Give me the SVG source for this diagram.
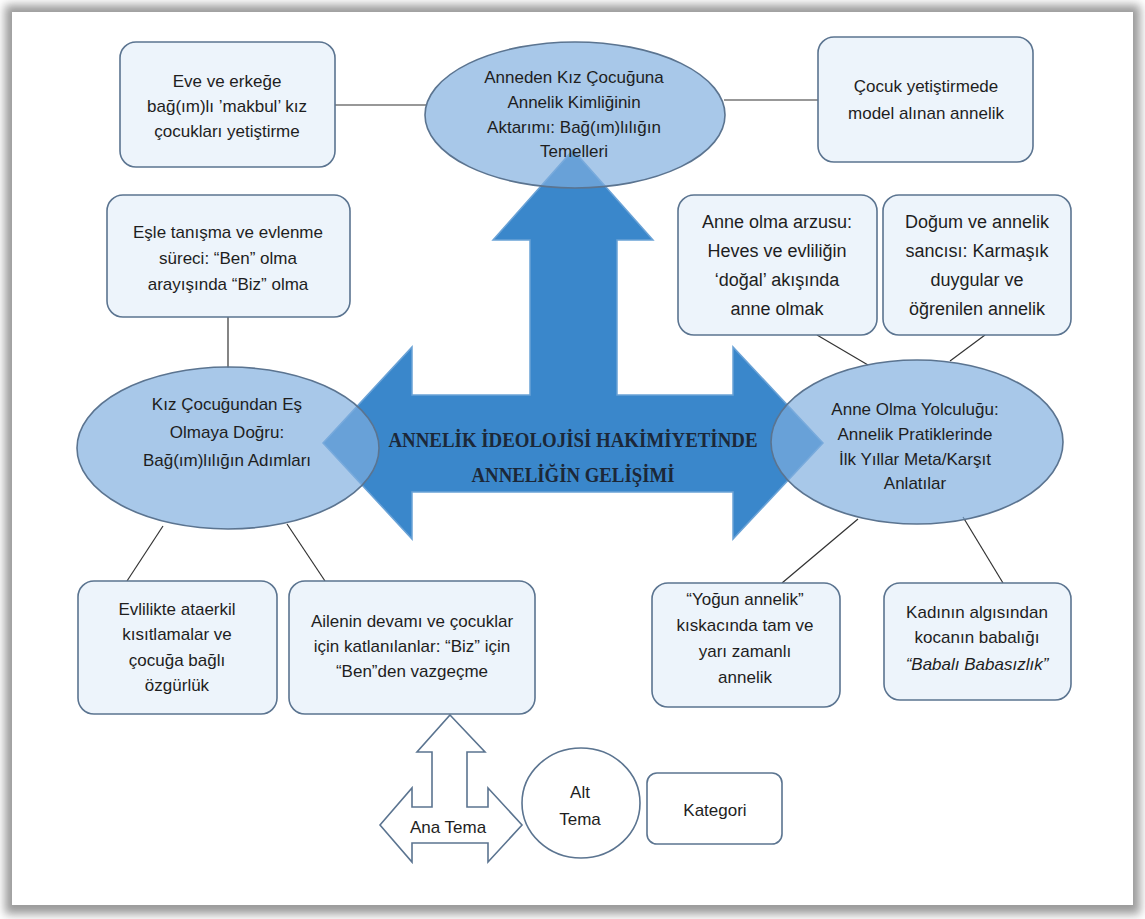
<svg xmlns="http://www.w3.org/2000/svg" width="1145" height="919" viewBox="0 0 1145 919">
<defs>
<filter id="sh" x="-5%" y="-5%" width="110%" height="110%"><feGaussianBlur stdDeviation="5"/></filter>
<style>
.box{fill:#EDF4FB;stroke:#5B7490;stroke-width:1.6}
.ell{fill:#7FAEDF;fill-opacity:0.68;stroke:#5B7490;stroke-width:1.6}
.leg{fill:#FFFFFF;stroke:#5B7490;stroke-width:1.6}
.t{font-family:"Liberation Sans",Arial,sans-serif;font-size:17px;fill:#1e1e1e;text-anchor:middle}
.big{font-size:18px}
.ttl{font-family:"Liberation Serif","Times New Roman",serif;font-weight:bold;font-size:20px;fill:#1c2838;text-anchor:middle}
.conn line{stroke:#333333;stroke-width:1.2}
</style>
</defs>
<rect x="0" y="0" width="1145" height="919" fill="#ffffff"/>
<rect x="5" y="5" width="1135" height="909" fill="#9a9a9a" filter="url(#sh)"/>
<rect x="12" y="12" width="1121" height="893" fill="#ffffff"/>

<g id="connectors" class="conn">
<line x1="335" y1="105" x2="426" y2="105"/>
<line x1="818" y1="100" x2="724" y2="100"/>
<line x1="228" y1="317" x2="228" y2="368"/>
<line x1="817" y1="335" x2="868" y2="365"/>
<line x1="985" y1="335" x2="950" y2="361"/>
<line x1="163" y1="526" x2="127" y2="581"/>
<line x1="287" y1="524" x2="325" y2="581"/>
<line x1="858" y1="519" x2="782" y2="583"/>
<line x1="963" y1="517" x2="1003" y2="583"/>
</g>

<g id="main-arrow">
<polygon points="323,443 412,347 412,395 530,395 530,240 493,240 573,150 653,240 617,240 617,395 733,395 733,347 823,443 733,539 733,492 412,492 412,539" fill="#3A87CB" stroke="#6AA2D6" stroke-width="1.5"/>
</g>

<g id="ellipse-top">
<ellipse class="ell" cx="575" cy="115" rx="150" ry="73"/>
<text class="t" x="574" y="83">Anneden Kız Çocuğuna</text>
<text class="t" x="574" y="108">Annelik Kimliğinin</text>
<text class="t" x="574" y="133">Aktarımı: Bağ(ım)lılığın</text>
<text class="t" x="574" y="157">Temelleri</text>
</g>

<g id="ellipse-left">
<ellipse class="ell" cx="228" cy="448" rx="151" ry="81"/>
<text class="t" x="227" y="410">Kız Çocuğundan Eş</text>
<text class="t" x="227" y="438">Olmaya Doğru:</text>
<text class="t" x="227" y="466">Bağ(ım)lılığın Adımları</text>
</g>

<g id="ellipse-right">
<ellipse class="ell" cx="917" cy="442" rx="146" ry="82"/>
<text class="t" x="915" y="415">Anne Olma Yolculuğu:</text>
<text class="t" x="915" y="440">Annelik Pratiklerinde</text>
<text class="t" x="915" y="465">İlk Yıllar Meta/Karşıt</text>
<text class="t" x="915" y="489">Anlatılar</text>
</g>

<g id="title">
<text class="ttl" x="573" y="447" textLength="369" lengthAdjust="spacingAndGlyphs">ANNELİK İDEOLOJİSİ HAKİMİYETİNDE</text>
<text class="ttl" x="573" y="482" textLength="203" lengthAdjust="spacingAndGlyphs">ANNELİĞİN GELİŞİMİ</text>
</g>

<g id="box-eve">
<rect class="box" x="120" y="42" width="215" height="125" rx="16"/>
<text class="t" x="227" y="87">Eve ve erkeğe</text>
<text class="t" x="227" y="112">bağ(ım)lı ’makbul’ kız</text>
<text class="t" x="227" y="137">çocukları yetiştirme</text>
</g>

<g id="box-cocuk">
<rect class="box" x="818" y="37" width="215" height="125" rx="16"/>
<text class="t" x="926" y="92">Çocuk yetiştirmede</text>
<text class="t" x="926" y="119">model alınan annelik</text>
</g>

<g id="box-esle">
<rect class="box" x="107" y="195" width="243" height="122" rx="16"/>
<text class="t" x="228" y="238">Eşle tanışma ve evlenme</text>
<text class="t" x="228" y="264">süreci: “Ben” olma</text>
<text class="t" x="228" y="290">arayışında “Biz” olma</text>
</g>

<g id="box-arzu">
<rect class="box" x="678" y="195" width="199" height="140" rx="16"/>
<text class="t big" x="777" y="228">Anne olma arzusu:</text>
<text class="t big" x="777" y="257">Heves ve evliliğin</text>
<text class="t big" x="777" y="286">‘doğal’ akışında</text>
<text class="t big" x="777" y="315">anne olmak</text>
</g>

<g id="box-dogum">
<rect class="box" x="883" y="195" width="188" height="140" rx="16"/>
<text class="t big" x="977" y="228">Doğum ve annelik</text>
<text class="t big" x="977" y="257">sancısı: Karmaşık</text>
<text class="t big" x="977" y="286">duygular ve</text>
<text class="t big" x="977" y="315">öğrenilen annelik</text>
</g>

<g id="box-evlilik">
<rect class="box" x="78" y="581" width="199" height="133" rx="16"/>
<text class="t" x="177" y="615">Evlilikte ataerkil</text>
<text class="t" x="177" y="640">kısıtlamalar ve</text>
<text class="t" x="177" y="666">çocuğa bağlı</text>
<text class="t" x="177" y="691">özgürlük</text>
</g>

<g id="box-ailenin">
<rect class="box" x="289" y="581" width="246" height="133" rx="16"/>
<text class="t" x="412" y="627">Ailenin devamı ve çocuklar</text>
<text class="t" x="412" y="652">için katlanılanlar: “Biz” için</text>
<text class="t" x="412" y="677">“Ben”den vazgeçme</text>
</g>

<g id="box-yogun">
<rect class="box" x="652" y="583" width="188" height="124" rx="16"/>
<text class="t" x="745" y="605">“Yoğun annelik”</text>
<text class="t" x="745" y="631">kıskacında tam ve</text>
<text class="t" x="745" y="657">yarı zamanlı</text>
<text class="t" x="745" y="683">annelik</text>
</g>

<g id="box-kadinin">
<rect class="box" x="884" y="583" width="187" height="117" rx="16"/>
<text class="t" x="977" y="618">Kadının algısından</text>
<text class="t" x="977" y="643">kocanın babalığı</text>
<text class="t" x="977" y="670" font-style="italic">“Babalı Babasızlık”</text>
</g>

<g id="legend-ana-tema">
<polygon class="leg" points="450,715 485,752 467,752 467,807 488,807 488,788 522,825 488,862 488,843 412,843 412,862 380,825 412,788 412,807 432,807 432,752 417,752"/>
<text class="t" x="448" y="833">Ana Tema</text>
</g>

<g id="legend-alt-tema">
<ellipse class="leg" cx="581" cy="803" rx="59" ry="55"/>
<text class="t" x="580" y="798">Alt</text>
<text class="t" x="580" y="825">Tema</text>
</g>

<g id="legend-kategori">
<rect class="leg" x="647" y="773" width="135" height="71" rx="10"/>
<text class="t" x="715" y="816">Kategori</text>
</g>
</svg>
